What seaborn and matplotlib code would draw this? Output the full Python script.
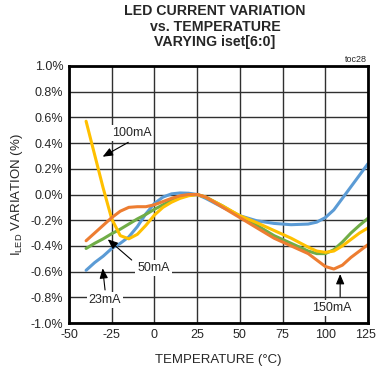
import matplotlib
matplotlib.use("Agg")
import matplotlib.pyplot as plt
import matplotlib.transforms as mtransforms
import pandas as pd
import seaborn as sns

# Temperature grid (deg C) and % variation.
temp = [-40, -35, -30, -25, -20, -15, -10, -5, 0, 5, 10, 15, 20, 25, 30,
        40, 50, 60, 70, 80, 90, 95, 100, 105, 110, 115, 120, 125]

i23 = [-0.59, -0.53, -0.48, -0.42, -0.38, -0.33, -0.25, -0.15, -0.07, -0.02,
       0.005, 0.012, 0.01, 0.0, -0.03, -0.10, -0.165, -0.205, -0.225, -0.235,
       -0.23, -0.215, -0.18, -0.12, -0.03, 0.06, 0.15, 0.24]
i50 = [-0.42, -0.38, -0.345, -0.305, -0.27, -0.23, -0.19, -0.155, -0.115,
       -0.08, -0.045, -0.02, -0.005, 0.0, -0.02, -0.09, -0.17, -0.24, -0.32,
       -0.38, -0.44, -0.46, -0.46, -0.43, -0.37, -0.30, -0.24, -0.185]
i100 = [0.57, 0.31, 0.05, -0.19, -0.32, -0.345, -0.31, -0.24, -0.16, -0.10,
        -0.06, -0.03, -0.01, 0.0, -0.02, -0.09, -0.165, -0.22, -0.28, -0.34,
        -0.41, -0.44, -0.45, -0.44, -0.40, -0.35, -0.30, -0.26]
i150 = [-0.36, -0.30, -0.24, -0.18, -0.13, -0.10, -0.095, -0.095, -0.08,
        -0.055, -0.03, -0.01, 0.0, 0.0, -0.02, -0.10, -0.18, -0.26, -0.34,
        -0.40, -0.46, -0.51, -0.56, -0.58, -0.55, -0.49, -0.44, -0.39]

series = {"23mA": i23, "50mA": i50, "100mA": i100, "150mA": i150}
colors = {"23mA": "#5B9BD5", "50mA": "#70AD47",
          "100mA": "#FFC000", "150mA": "#ED7D31"}

x_ticks = [-50, -25, 0, 25, 50, 75, 100, 125]
y_ticks = [-1.0, -0.8, -0.6, -0.4, -0.2, 0.0, 0.2, 0.4, 0.6, 0.8, 1.0]

df = pd.DataFrame(
    [(t, v, name) for name, vals in series.items() for t, v in zip(temp, vals)],
    columns=["temp", "var", "iset"],
)

sns.set_style("white")
plt.rcParams["font.family"] = ["Liberation Sans", "DejaVu Sans"]
plt.rcParams["mathtext.fontset"] = "custom"
plt.rcParams["mathtext.rm"] = "Liberation Sans"
plt.rcParams["mathtext.default"] = "rm"

fig = plt.figure(figsize=(3.76, 3.73), dpi=100)
ax = fig.add_axes([69 / 376, 50 / 373, 299 / 376, 257 / 373])

sns.lineplot(data=df, x="temp", y="var", hue="iset",
             hue_order=["23mA", "50mA", "100mA", "150mA"],
             palette=colors, linewidth=2.2, legend=False, ax=ax)

ax.set_xlim(-50, 125)
ax.set_ylim(-1.0, 1.0)
ax.set_xticks(x_ticks)
ax.set_yticks(y_ticks)
ax.set_xticklabels([str(t) for t in x_ticks], fontsize=9)
ax.set_yticklabels([f"{t:.1f}%" for t in y_ticks], fontsize=9)
ax.tick_params(length=0, pad=4)
# last x label sits on the figure edge; nudge it left so it stays inside
last = ax.get_xticklabels()[-1]
last.set_transform(last.get_transform()
                   + mtransforms.ScaledTranslation(-2 / 72, 0, fig.dpi_scale_trans))
ax.grid(True, color="#303030", linewidth=1.0)
ax.set_axisbelow(True)
for s in ax.spines.values():
    s.set_color("black")
    s.set_linewidth(2)

ax.set_xlabel("TEMPERATURE (°C)", fontsize=9.5, labelpad=10)
ax.set_ylabel(r"I$_{\mathrm{LED}}$ VARIATION (%)", fontsize=9.5, labelpad=4)

fig.text(215 / 376, 1 - 4 / 373,
         "LED CURRENT VARIATION\nvs. TEMPERATURE\nVARYING iset[6:0]",
         ha="center", va="top", fontsize=10.2, fontweight="bold",
         linespacing=1.15)
fig.text(367 / 376, 1 - 60 / 373, "toc28", ha="right", va="center",
         fontsize=6.5)

box = dict(boxstyle="square,pad=0.15", fc="white", ec="none")
arrow = dict(arrowstyle="-|>,head_length=0.6,head_width=0.25",
             color="black", lw=0.8, shrinkA=0, shrinkB=0)

labels = [("100mA", (-13.3, 0.476), (-15.3, 0.406), (-30.3, 0.294)),
          ("50mA", (-0.6, -0.574), (-13.3, -0.51), (-27.3, -0.349)),
          ("23mA", (-28.9, -0.82), (-28.9, -0.743), (-30.3, -0.574)),
          ("150mA", (103.8, -0.886), (108.7, -0.795), (108.7, -0.619))]
for text, pos, tail, head in labels:
    ax.annotate("", xy=head, xytext=tail, arrowprops=arrow)
    ax.text(pos[0], pos[1], text, ha="center", va="center", fontsize=9,
            bbox=box)

fig.savefig("out.png", dpi=100)
